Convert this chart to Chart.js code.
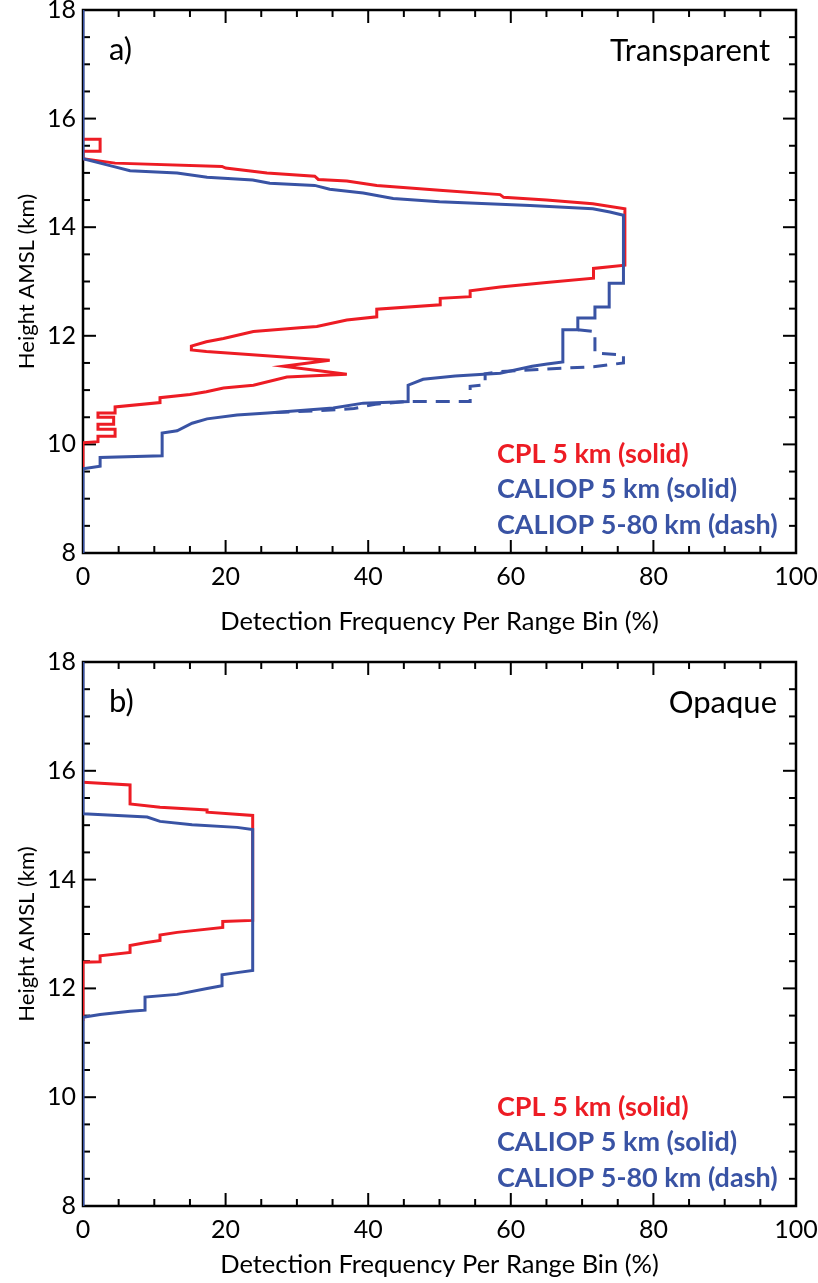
<!DOCTYPE html>
<html>
<head>
<meta charset="utf-8">
<script src="https://cdn.jsdelivr.net/npm/chart.js@4.4.0/dist/chart.umd.min.js"></script>
<style>
  html, body { margin: 0; padding: 0; background: #fff; }
  canvas { position: absolute; left: 0; }
  #chartA { top: 0; }
  #chartB { top: 640px; }
</style>
</head>
<body>
<canvas id="chartA" width="818" height="640"></canvas>
<canvas id="chartB" width="818" height="643"></canvas>
<script>
// axis ticks
const xTickValues = [0, 20, 40, 60, 80, 100];
const yTickValues = [8, 10, 12, 14, 16, 18];
const legendLabels = ['CPL 5 km (solid)', 'CALIOP 5 km (solid)', 'CALIOP 5-80 km (dash)'];

// a) transparent cirrus, CPL 5 km
const cplTranspPct = [0, 2.4, 2.4, 0, 0, 4.5, 19.5, 20, 25.8, 32.5, 33, 37, 41.2, 50, 58.5, 59, 65, 71.5, 76,
  76, 71.6, 71.6, 65, 58.5, 54.3, 54.3, 50.1, 50.1, 41.2, 41.2, 37, 32.8, 30.4, 23.9, 19.7, 17.3, 15.2, 15.2,
  17.3, 34.6, 28.1, 37, 28.6, 23.9, 19.7, 17.3, 15, 10.8, 10.8, 4.5, 4.5, 2.1, 2.1, 4.3, 4.3, 2.1, 2.1, 4.5,
  4.5, 2.1, 2.1, 0, 0];
const cplTranspKm = [15.62, 15.62, 15.40, 15.40, 15.26, 15.18, 15.12, 15.09, 15.0, 14.94, 14.88, 14.85, 14.77,
  14.68, 14.60, 14.55, 14.50, 14.43, 14.34, 13.30, 13.24, 13.06, 12.98, 12.90, 12.83, 12.72, 12.69, 12.57,
  12.49, 12.35, 12.29, 12.17, 12.15, 12.08, 11.95, 11.89, 11.81, 11.74, 11.71, 11.55, 11.44, 11.29, 11.24,
  11.09, 11.04, 10.97, 10.92, 10.86, 10.77, 10.69, 10.58, 10.58, 10.50, 10.50, 10.37, 10.37, 10.28, 10.28,
  10.15, 10.15, 10.05, 10.03, 9.56];

// a) transparent cirrus, CALIOP 5 km
const calTranspPct = [0, 0, 4.2, 6.6, 13.2, 17.4, 23.8, 26.2, 32.5, 34.6, 39.3, 43.5, 50, 62.7, 71.5, 73.9,
  75.8, 75.8, 73.8, 73.8, 71.8, 71.8, 69.4, 69.4, 67.3, 67.3, 65.1, 63, 58.5, 52.2, 47.7, 45.6, 45.6, 39.3,
  35.1, 25.9, 21.6, 17.4, 15.3, 13.2, 11.1, 11.1, 2.4, 2.4, 0, 0];
const calTranspKm = [18, 15.26, 15.12, 15.04, 15.0, 14.92, 14.87, 14.81, 14.77, 14.70, 14.63, 14.53, 14.47,
  14.40, 14.34, 14.28, 14.22, 12.97, 12.97, 12.53, 12.53, 12.33, 12.33, 12.11, 12.11, 11.52, 11.48, 11.44,
  11.31, 11.26, 11.20, 11.09, 10.79, 10.76, 10.67, 10.58, 10.54, 10.47, 10.39, 10.25, 10.21, 9.79, 9.76,
  9.60, 9.55, 8];

// a) transparent cirrus, CALIOP 5-80 km (only where it departs from 5 km)
const cal80TranspPct = [69.4, 71.8, 71.8, 75.8, 75.8, 71.6, 65, 58.5, 56.4, 56.4, 54.3, 54.3, 45.6, 41, 38, 33, 25.9];
const cal80TranspKm = [12.11, 12.08, 11.68, 11.65, 11.50, 11.43, 11.39, 11.34, 11.30, 11.10, 11.07, 10.79,
  10.79, 10.74, 10.66, 10.62, 10.58];

// b) opaque cirrus, CPL 5 km
const cplOpaquePct = [0, 6.6, 6.6, 10.8, 17.4, 17.4, 23.8, 23.8, 19.6, 19.6, 13.2, 10.8, 10.8, 8.7, 6.6, 6.6,
  2.4, 2.4, 0, 0];
const cplOpaqueKm = [15.79, 15.74, 15.39, 15.33, 15.28, 15.24, 15.18, 13.25, 13.23, 13.12, 13.03, 12.98, 12.88,
  12.84, 12.79, 12.66, 12.60, 12.49, 12.48, 11.4];

// b) opaque cirrus, CALIOP 5 km
const calOpaquePct = [0, 0, 9.0, 10.8, 15.3, 21.6, 23.8, 23.8, 21.6, 19.5, 19.5, 17.4, 13.2, 8.7, 8.7, 6.6,
  2.4, 0, 0];
const calOpaqueKm = [18, 15.21, 15.15, 15.07, 15.01, 14.96, 14.92, 12.33, 12.29, 12.25, 12.05, 12.0, 11.89,
  11.84, 11.60, 11.58, 11.52, 11.47, 8];

const RED = 'rgb(237,28,36)';
const BLUE = 'rgb(57,83,164)';
const FONT = 'Lato';

function profile(pct, km) {
  return km.map((h, i) => ({ x: pct[i], y: h }));
}

function lineSet(label, pct, km, color, dash) {
  return {
    label: label,
    data: profile(pct, km),
    showLine: true,
    borderColor: color,
    borderWidth: 3,
    borderDash: dash || [],
    pointRadius: 0,
    tension: 0,
    fill: false
  };
}

// box around the plot with inward major/minor ticks on all four sides
const frameTicks = {
  id: 'frameTicks',
  beforeDatasetsDraw(chart) {
    const { ctx, chartArea: a, scales: { x, y } } = chart;
    ctx.save();
    ctx.strokeStyle = '#000';
    ctx.lineWidth = 2;
    const seg = (x1, y1, x2, y2) => { ctx.beginPath(); ctx.moveTo(x1, y1); ctx.lineTo(x2, y2); ctx.stroke(); };
    for (let v = 0; v <= 100; v += 5) {
      const px = x.getPixelForValue(v);
      const len = xTickValues.includes(v) ? 13 : 7;
      seg(px, a.bottom, px, a.bottom - len);
      seg(px, a.top, px, a.top + len);
    }
    for (let v = 8; v <= 18; v += 0.5) {
      const py = y.getPixelForValue(v);
      const len = yTickValues.includes(v) ? 13 : 7;
      seg(a.left, py, a.left + len, py);
      seg(a.right, py, a.right - len, py);
    }
    ctx.lineWidth = 2.5;
    ctx.strokeRect(a.left, a.top, a.right - a.left, a.bottom - a.top);
    ctx.restore();
  }
};

// panel letter, cloud type and coloured legend text
const panelText = {
  id: 'panelText',
  afterDatasetsDraw(chart, args, opts) {
    const { ctx, chartArea: a } = chart;
    ctx.save();
    ctx.fillStyle = '#000';
    ctx.textBaseline = 'middle';
    ctx.font = '31px ' + FONT;
    ctx.textAlign = 'left';
    ctx.fillText(opts.tag, a.left + 26, a.top + 40);
    ctx.font = '31px ' + FONT;
    ctx.textAlign = 'right';
    ctx.fillText(opts.kind, a.right - opts.kindInset, a.top + 41);
    ctx.font = 'bold 27px ' + FONT;
    ctx.textAlign = 'left';
    const colors = [RED, BLUE, BLUE];
    legendLabels.forEach((t, i) => {
      ctx.fillStyle = colors[i];
      ctx.fillText(t, a.left + 414, a.bottom - 99 + i * 35.5);
    });
    ctx.restore();
  }
};

function makePanel(id, datasets, pad, xHeight, titlePad, tag, kind, kindInset) {
  return new Chart(document.getElementById(id), {
    type: 'scatter',
    data: { datasets: datasets },
    options: {
      responsive: false,
      animation: false,
      layout: { padding: pad },
      plugins: {
        legend: { display: false },
        tooltip: { enabled: false },
        panelText: { tag: tag, kind: kind, kindInset: kindInset }
      },
      scales: {
        x: {
          type: 'linear',
          min: 0,
          max: 100,
          afterBuildTicks: s => { s.ticks = xTickValues.map(v => ({ value: v })); },
          afterFit: s => { s.height = xHeight; s.paddingLeft = 0; s.paddingRight = 0; },
          grid: { display: false, drawTicks: false },
          border: { display: false },
          ticks: { color: '#000', font: { family: FONT, size: 25 }, padding: 9, maxRotation: 0 },
          title: {
            display: true,
            text: 'Detection Frequency Per Range Bin (%)',
            color: '#000',
            font: { family: FONT, size: 25.5 },
            padding: { top: 0, bottom: titlePad }
          }
        },
        y: {
          type: 'linear',
          min: 8,
          max: 18,
          afterBuildTicks: s => { s.ticks = yTickValues.map(v => ({ value: v })); },
          afterFit: s => { s.width = 83; s.paddingTop = 0; s.paddingBottom = 0; },
          grid: { display: false, drawTicks: false },
          border: { display: false },
          ticks: { color: '#000', font: { family: FONT, size: 25 }, padding: 7 },
          title: {
            display: true,
            text: 'Height AMSL (km)',
            color: '#000',
            font: { family: FONT, size: 22 },
            padding: { top: 14, bottom: 0 }
          }
        }
      }
    },
    plugins: [frameTicks, panelText]
  });
}

makePanel('chartA', [
  lineSet(legendLabels[1], calTranspPct, calTranspKm, BLUE),
  lineSet(legendLabels[2], cal80TranspPct, cal80TranspKm, BLUE, [14, 9]),
  lineSet(legendLabels[0], cplTranspPct, cplTranspKm, RED)
], { top: 10, left: 0, right: 22, bottom: 3 }, 84, 0, 'a)', 'Transparent', 26);

makePanel('chartB', [
  lineSet(legendLabels[1], calOpaquePct, calOpaqueKm, BLUE),
  lineSet(legendLabels[0], cplOpaquePct, cplOpaqueKm, RED)
], { top: 22, left: 0, right: 22, bottom: 0 }, 77, 3, 'b)', 'Opaque', 19);
</script>
</body>
</html>
